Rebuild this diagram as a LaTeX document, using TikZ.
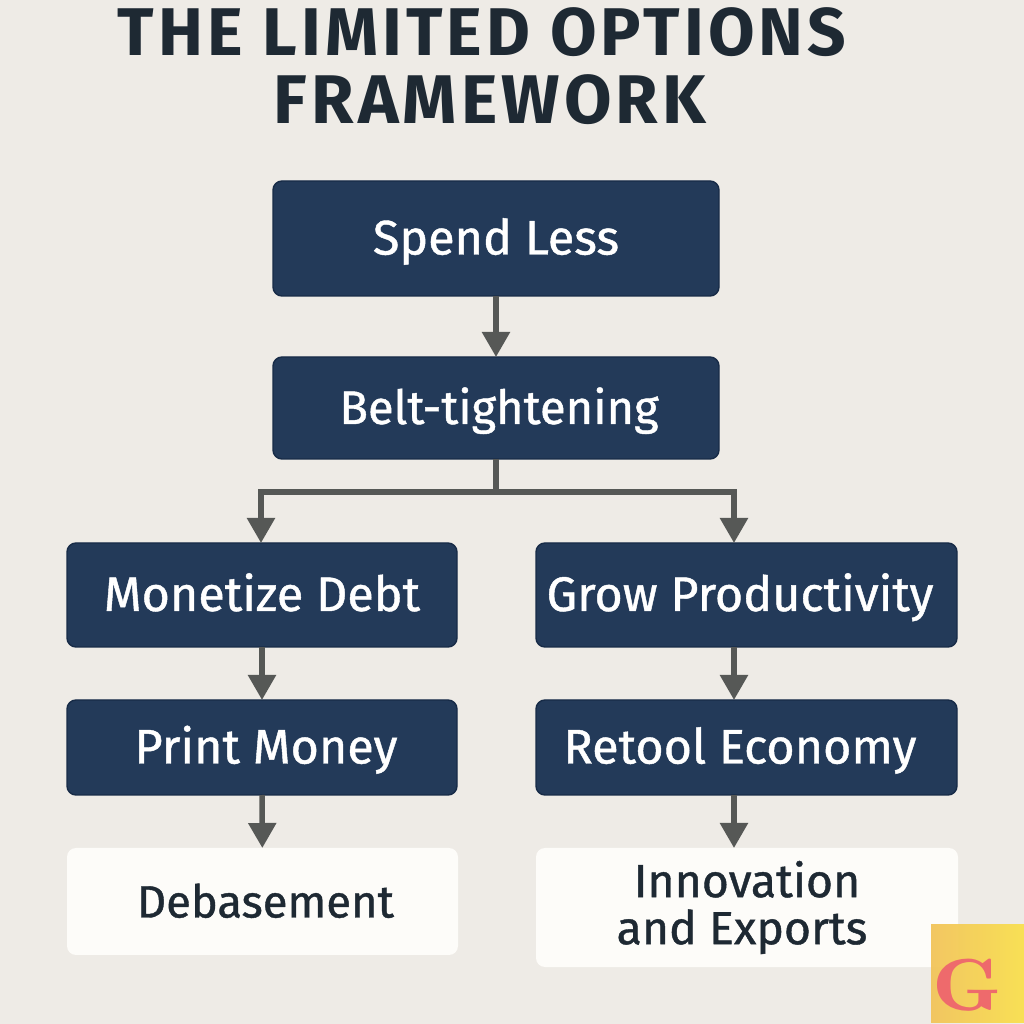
\documentclass[tikz,border=0pt]{standalone}
\usepackage{fontspec}
\setmainfont{Fira Sans}
\newfontfamily\titlefont[LetterSpace=6]{Fira Sans}
\usetikzlibrary{arrows.meta, positioning, calc}
\definecolor{paper}{HTML}{EEEBE6}
\definecolor{navy}{HTML}{233A59}
\definecolor{navyline}{HTML}{172B47}
\definecolor{linkgray}{HTML}{565856}
\definecolor{cardwhite}{HTML}{FDFCF9}
\definecolor{inkdark}{HTML}{1E2933}
\definecolor{logoleft}{HTML}{F2C45C}
\definecolor{logoright}{HTML}{F9E050}
\definecolor{logored}{HTML}{EE6A6C}
\newcommand{\medium}{\addfontfeature{FakeBold=0.9}}
\tikzset{
  oneline/.style={text height=0.34cm, text depth=0.02cm},
  navybox/.style={rectangle, outer sep=0pt, inner xsep=0pt, rounded corners=0.09cm, draw=navyline, line width=0.4pt, fill=navy, text=white, font=\fontsize{13.8}{16}\selectfont\medium, oneline},
  whitebox/.style={rectangle, outer sep=0pt, inner xsep=0pt, rounded corners=0.09cm, fill=cardwhite, text=inkdark, font=\fontsize{13.2}{13.4}\selectfont\medium},
  heading/.style={text=inkdark, font=\fontsize{19.2}{22}\selectfont\titlefont\bfseries},
  link/.style={-{Triangle[width=0.27cm,length=0.25cm]}, draw=linkgray, line width=0.055cm}
}
\begin{document}
\begin{tikzpicture}
\fill[paper] (0,0) rectangle (10.24,10.24);
\useasboundingbox (0,0) rectangle (10.24,10.24);

\node[heading] (title1) at (4.82, 9.92) {THE LIMITED OPTIONS};
\node[heading, font=\fontsize{19.6}{22}\selectfont\titlefont\bfseries] (title2) at (4.90, 9.24) {FRAMEWORK};

\node[navybox, minimum width=4.46cm, minimum height=1.15cm] (spend) at (4.96, 7.855) {Spend Less};
\node[navybox, font=\fontsize{13.4}{16}\selectfont\medium, minimum width=4.46cm, minimum height=1.02cm] (belt) at (4.96, 6.16) {\hspace*{0.06cm}Belt-tightening};
\node[navybox, minimum width=3.90cm, minimum height=1.04cm] (monetize) at (2.62, 4.29) {Monetize Debt};
\node[navybox, minimum width=4.21cm, minimum height=1.04cm] (grow) at (7.465, 4.29) {Grow Productivity\hspace*{0.13cm}};
\node[navybox, minimum width=3.90cm, minimum height=0.95cm] (print) at (2.62, 2.765) {\hspace*{0.08cm}Print Money};
\node[navybox, minimum width=4.21cm, minimum height=0.95cm] (retool) at (7.465, 2.765) {Retool Economy\hspace*{0.13cm}};
\node[whitebox, oneline, font=\fontsize{12.9}{14}\selectfont\medium, minimum width=3.91cm, minimum height=1.07cm] (debase) at (2.625, 1.225) {\hspace*{0.06cm}Debasement};
\node[whitebox, align=center, minimum width=4.22cm, minimum height=1.19cm] (innov) at (7.47, 1.165) {Innovation\\and Exports\hspace*{0.1cm}};

\coordinate (branchl) at (2.61, 5.32);
\coordinate (branchr) at (7.34, 5.32);

%connections
\draw[link] (spend) to (belt);
\draw[link] (belt.south) |- (branchl) -- (branchl |- monetize.north);
\draw[link] (belt.south) |- (branchr) -- (branchr |- grow.north);
\draw[link] (monetize) to (print);
\draw[link] (print) to (debase);
\draw[link] (grow.south -| branchr) -- (retool.north -| branchr);
\draw[link] (retool.south -| branchr) -- (innov.north -| branchr);

%logo
\node[rectangle, minimum width=0.93cm, minimum height=0.98cm, inner sep=0pt, left color=logoleft, right color=logoright, fill opacity=0.96] (logo) at (9.775, 0.51) {};
\node[inner sep=0pt, text=logored, xscale=1.2, font=\fontfamily{lmr}\fontseries{b}\fontsize{21}{22}\selectfont] (logoletter) at (9.67, 0.39) {G};
\end{tikzpicture}
\end{document}
